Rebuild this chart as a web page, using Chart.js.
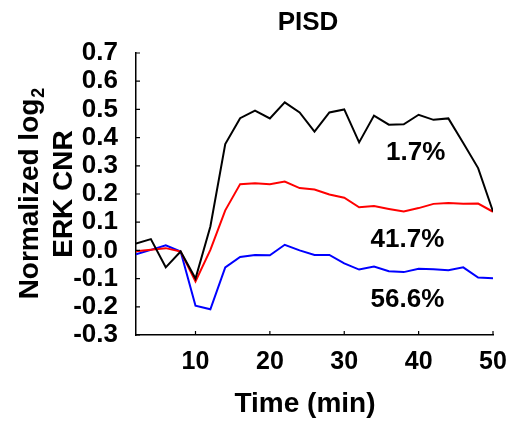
<!DOCTYPE html>
<html>
<head>
<meta charset="utf-8">
<script src="https://cdn.jsdelivr.net/npm/chart.js@4"></script>
<style>
  body { margin: 0; background: #fff; }
</style>
</head>
<body>
<canvas id="erkChart" width="509" height="421"></canvas>
<script>
// time points (min) and the three subpopulation traces
const times = [2, 4, 6, 8, 10, 12, 14, 16, 18, 20, 22, 24, 26, 28, 30, 32, 34, 36, 38, 40, 42, 44, 46, 48, 50];
const blackSeries = [0.024, 0.040, -0.060, -0.004, -0.100, 0.085, 0.377, 0.469, 0.496, 0.468, 0.525, 0.489, 0.421, 0.489, 0.500, 0.383, 0.478, 0.446, 0.447, 0.481, 0.463, 0.468, 0.381, 0.292, 0.138];
const redSeries = [-0.003, 0.002, 0.008, -0.004, -0.110, 0.002, 0.142, 0.235, 0.238, 0.235, 0.244, 0.221, 0.216, 0.198, 0.187, 0.153, 0.157, 0.147, 0.138, 0.150, 0.165, 0.168, 0.165, 0.166, 0.137];
const blueSeries = [-0.014, 0.002, 0.018, -0.004, -0.196, -0.209, -0.060, -0.023, -0.016, -0.017, 0.020, 0.000, -0.016, -0.016, -0.046, -0.068, -0.057, -0.074, -0.077, -0.065, -0.067, -0.070, -0.060, -0.096, -0.099];

const xTicks = [10, 20, 30, 40, 50];
const yTicks = [-0.3, -0.2, -0.1, 0.0, 0.1, 0.2, 0.3, 0.4, 0.5, 0.6, 0.7];

// percent labels: [text, x (min), y (value)]
const pctLabels = [
  ['1.7%', 39.6, 0.346],
  ['41.7%', 38.5, 0.038],
  ['56.6%', 38.5, -0.177]
];

const FONT = '"Liberation Sans", Arial, sans-serif';

const toPoints = vals => times.map((t, i) => ({ x: t, y: vals[i] }));

const noPad = s => { s.paddingLeft = 0; s.paddingRight = 0; s.paddingTop = 0; s.paddingBottom = 0; };

// inward ticks, titles and percent labels
const decorPlugin = {
  id: 'decor',
  afterDraw(chart) {
    const { ctx, chartArea, scales: { x, y } } = chart;
    ctx.save();
    ctx.strokeStyle = '#000';
    ctx.lineWidth = 1.2;
    ctx.beginPath();
    xTicks.forEach(v => {
      const px = x.getPixelForValue(v);
      ctx.moveTo(px, chartArea.bottom);
      ctx.lineTo(px, chartArea.bottom - 4);
    });
    yTicks.forEach(v => {
      const py = y.getPixelForValue(v);
      ctx.moveTo(chartArea.left, py);
      ctx.lineTo(chartArea.left + 4, py);
    });
    ctx.stroke();

    ctx.fillStyle = '#000';
    // title
    ctx.font = 'bold 26px ' + FONT;
    ctx.textAlign = 'center';
    ctx.textBaseline = 'middle';
    ctx.fillText('PISD', 308, 23);

    // x axis title
    ctx.font = 'bold 28px ' + FONT;
    ctx.textBaseline = 'alphabetic';
    ctx.fillText('Time (min)', 305, 412);

    // y axis title, two lines, with subscript
    const midY = (chartArea.top + chartArea.bottom) / 2;
    ctx.save();
    ctx.translate(38, midY);
    ctx.rotate(-Math.PI / 2);
    ctx.textAlign = 'left';
    ctx.font = 'bold 28px ' + FONT;
    const w1 = ctx.measureText('Normalized log').width;
    ctx.font = 'bold 18px ' + FONT;
    const w2 = ctx.measureText('2').width;
    const start = -(w1 + w2) / 2;
    ctx.font = 'bold 28px ' + FONT;
    ctx.fillText('Normalized log', start, 0);
    ctx.font = 'bold 18px ' + FONT;
    ctx.fillText('2', start + w1 + 1, 6);
    ctx.restore();

    ctx.save();
    ctx.translate(72, midY);
    ctx.rotate(-Math.PI / 2);
    ctx.textAlign = 'center';
    ctx.font = 'bold 28px ' + FONT;
    ctx.fillText('ERK CNR', 0, 0);
    ctx.restore();

    // percentages
    ctx.font = 'bold 26px ' + FONT;
    ctx.textAlign = 'center';
    ctx.textBaseline = 'middle';
    pctLabels.forEach(([txt, vx, vy]) => {
      ctx.fillText(txt, x.getPixelForValue(vx), y.getPixelForValue(vy));
    });
    ctx.restore();
  }
};

const ctx = document.getElementById('erkChart').getContext('2d');

new Chart(ctx, {
  type: 'line',
  data: {
    datasets: [
      { label: '1.7%', data: toPoints(blackSeries), borderColor: '#000000', borderWidth: 2, pointRadius: 0, tension: 0 },
      { label: '41.7%', data: toPoints(redSeries), borderColor: '#ff0000', borderWidth: 2, pointRadius: 0, tension: 0 },
      { label: '56.6%', data: toPoints(blueSeries), borderColor: '#0000ff', borderWidth: 2, pointRadius: 0, tension: 0 }
    ]
  },
  options: {
    responsive: false,
    animation: false,
    devicePixelRatio: 1,
    layout: { padding: { top: 53, right: 16, left: 0, bottom: 0 } },
    plugins: { legend: { display: false }, title: { display: false }, tooltip: { enabled: false } },
    scales: {
      x: {
        type: 'linear',
        min: 2,
        max: 50,
        afterBuildTicks: s => { s.ticks = xTicks.map(v => ({ value: v })); },
        afterFit: s => { s.height = 86; noPad(s); },
        grid: { display: false },
        border: { display: true, color: '#000', width: 1.5 },
        ticks: { color: '#000', font: { family: FONT, size: 25, weight: 'bold' }, padding: 4, maxRotation: 0, autoSkip: false }
      },
      y: {
        min: -0.3,
        max: 0.7,
        afterBuildTicks: s => { s.ticks = yTicks.map(v => ({ value: v })); },
        afterFit: s => { s.width = 136; noPad(s); },
        grid: { display: false },
        border: { display: true, color: '#000', width: 1.5 },
        ticks: {
          color: '#000',
          font: { family: FONT, size: 26, weight: 'bold' },
          padding: 10,
          autoSkip: false,
          callback: v => v.toFixed(1)
        }
      }
    }
  },
  plugins: [decorPlugin]
});
</script>
</body>
</html>
